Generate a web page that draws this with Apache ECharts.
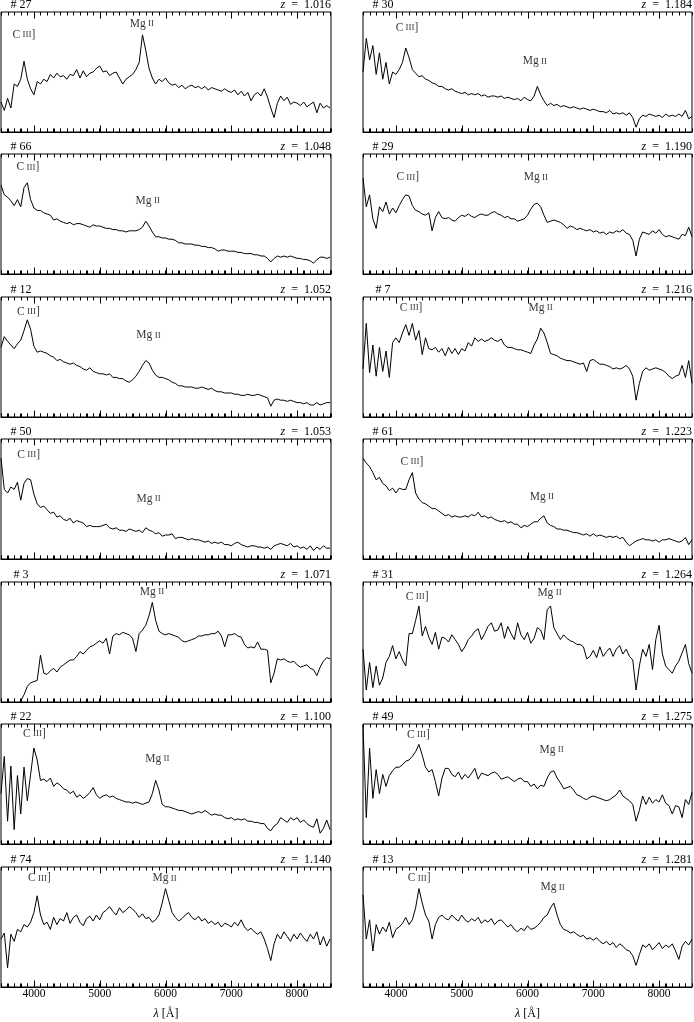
<!DOCTYPE html>
<html><head><meta charset="utf-8">
<script src="https://cdn.jsdelivr.net/npm/echarts@6/dist/echarts.min.js"></script>
<style>html,body{margin:0;padding:0;background:#fff}#c{width:694px;height:1022px}</style>
</head><body><div id="c"></div>
<script>
// wavelength grid (Angstrom)
const lam = [3500,3550,3600,3650,3700,3750,3800,3850,3900,3950,
4000,4050,4100,4150,4200,4250,4300,4350,4400,4450,
4500,4550,4600,4650,4700,4750,4800,4850,4900,4950,
5000,5050,5100,5150,5200,5250,5300,5350,5400,5450,
5500,5550,5600,5650,5700,5750,5800,5850,5900,5950,
6000,6050,6100,6150,6200,6250,6300,6350,6400,6450,
6500,6550,6600,6650,6700,6750,6800,6850,6900,6950,
7000,7050,7100,7150,7200,7250,7300,7350,7400,7450,
7500,7550,7600,7650,7700,7750,7800,7850,7900,7950,
8000,8050,8100,8150,8200,8250,8300,8350,8400,8450,
8500];

// tick positions (Angstrom)
const minorTicks = [3500,3600,3700,3800,3900,4000,4100,4200,4300,4400,4500,4600,4700,4800,4900,
5000,5100,5200,5300,5400,5500,5600,5700,5800,5900,6000,6100,6200,6300,6400,6500,6600,6700,6800,6900,
7000,7100,7200,7300,7400,7500,7600,7700,7800,7900,8000,8100,8200,8300,8400,8500];
const majorTicks = [4000,5000,6000,7000,8000];

const ids = ['27','66','12','50','3','22','74','30','29','7','61','31','49','13'];
const redshifts = ['1.016','1.048','1.052','1.053','1.071','1.100','1.140','1.184','1.190','1.216','1.223','1.264','1.275','1.281'];

// relative flux (0 = panel bottom, 100 = panel top)
const s27 = [25,18,28,20,40,38,44,59,44,36, 31,42,40,44,42,48,45,49,46,47, 44,48,47,52,45,51,46,49,50,53,
 55,50,51,47,49,50,45,40,44,46, 48,52,58,81,68,53,45,40,44,42, 45,41,39,40,37,39,36,38,39,37,
 38,36,38,35,37,36,35,34,36,34, 33,35,31,34,30,33,26,31,33,30, 36,29,20,12,24,30,26,29,23,25,
 24,22,25,21,23,25,16,24,20,22, 20];
const s66 = [74,66,64,61,57,62,56,72,76,62, 55,53,53,51,50,49,45,46,44,43, 42,43,41,42,42,41,40,39,41,40,
 40,39,38,38,37,37,36,36,35,36, 36,36,37,39,44,40,35,31,31,30, 30,29,29,28,26,26,25,25,25,24,
 24,23,23,22,22,21,19,20,20,19, 19,19,18,18,17,17,17,16,16,15, 15,13,10,13,15,14,15,14,15,14,
 13,13,12,12,11,9,12,14,14,13, 14];
const s12 = [58,67,63,60,57,61,64,72,81,73, 59,54,55,54,53,51,50,47,48,46, 45,44,45,43,42,40,39,41,38,37,
 36,36,35,36,33,33,32,32,30,29, 31,34,38,43,47,45,39,35,33,33, 32,31,29,28,26,26,25,25,25,24,
 24,25,24,23,24,22,21,21,20,20, 20,19,19,18,18,19,18,18,19,18, 17,16,9,14,15,14,14,13,14,13,
 12,12,11,12,10,10,12,10,11,12, 12];
const s50 = [84,58,55,60,58,64,49,63,67,66, 54,46,43,44,41,38,39,35,36,33, 32,34,30,32,31,30,27,28,27,27,
 27,28,29,26,25,26,24,24,23,25, 24,23,24,22,26,24,23,21,22,19, 20,20,21,17,18,18,17,16,17,16,
 16,15,14,15,13,14,13,14,12,12, 11,13,14,12,11,10,11,11,10,10, 9,10,8,11,12,13,12,11,13,10,
 11,9,10,8,11,7,10,8,11,9, 9];
const s3 = [null,null,null,null,null,null,1,6,13,16, 17,18,39,24,23,26,28,25,29,31, 33,35,35,38,42,40,43,46,47,49,
 51,49,53,40,55,57,56,58,57,56, 53,42,57,60,64,72,83,68,59,57, 56,57,56,55,54,51,50,51,52,53,
 55,55,56,56,57,57,59,55,46,56, 56,57,55,54,48,45,46,45,50,44, 44,43,16,24,36,35,36,34,33,34,
 31,29,30,31,28,27,22,29,34,37, 36];
const s22 = [42,73,19,65,12,57,25,64,36,58, 80,70,53,54,52,55,48,51,49,46, 45,42,44,39,41,38,40,43,47,41,
 38,40,41,39,40,38,37,36,35,35, 34,35,34,33,34,35,42,53,45,33, 31,31,30,29,28,28,27,26,25,26,
 27,26,28,26,24,25,24,24,22,21, 22,20,21,20,21,19,19,18,18,17, 17,13,11,15,17,22,20,18,22,20,
 22,18,20,17,15,14,21,9,13,20, 12];
const s74 = [40,45,16,44,38,48,46,52,50,54, 62,76,60,52,54,48,58,52,57,55, 62,53,58,60,54,51,57,59,55,60,
 56,62,64,67,63,60,66,62,64,67, 65,62,58,61,57,58,54,56,60,70, 82,72,62,58,55,57,60,62,58,56,
 59,55,57,53,55,52,54,50,53,52, 50,54,51,56,50,47,49,46,44,46, 40,32,22,36,44,40,46,42,38,44,
 40,45,41,38,44,40,46,35,42,34, 40];
const s30 = [50,78,60,72,48,66,44,58,40,50, 48,52,58,70,62,52,49,46,47,44, 43,41,40,38,38,36,35,36,34,33,
 32,33,31,32,31,32,30,31,29,30, 30,29,30,28,29,28,27,28,26,29, 27,26,30,38,31,26,22,24,22,23,
 21,22,21,20,21,20,19,20,19,18, 19,18,17,17,16,18,15,16,15,16, 14,16,12,4,11,14,13,15,14,13,
 14,12,15,13,14,13,15,13,18,11, 13];
const s29 = [80,56,66,46,38,56,52,60,50,55, 51,57,62,66,65,57,53,52,50,49, 51,36,47,52,47,46,47,45,44,47,
 49,48,50,48,47,49,50,49,49,51, 52,50,49,47,48,46,46,44,45,46, 49,54,58,59,56,49,43,44,45,44,
 43,41,38,40,39,37,38,37,36,37, 35,36,34,35,33,35,34,36,35,37, 34,33,28,15,29,35,34,33,36,34,
 37,33,31,32,31,30,29,33,32,39, 31];
const s7 = [40,78,37,60,34,58,38,55,33,62, 66,62,70,77,68,78,64,72,52,66, 57,56,58,54,57,51,58,53,57,52,
 57,55,62,59,66,63,65,63,64,66, 64,63,65,60,58,58,57,56,56,55, 54,53,60,65,74,70,62,53,52,51,
 49,48,47,47,46,45,44,45,38,47, 48,46,44,44,43,42,40,41,40,41, 43,40,34,14,28,38,41,39,40,41,
 40,39,37,34,32,34,35,43,33,47, 28];
const s61 = [84,80,77,72,66,68,63,61,57,59, 55,59,58,58,66,72,55,50,47,46, 44,42,42,40,38,36,37,35,36,35,
 35,36,35,37,36,39,35,36,34,35, 33,32,31,32,30,31,29,29,26,28, 27,29,31,31,34,36,30,28,27,25,
 25,24,24,23,22,22,21,20,21,19, 21,19,20,19,18,19,18,19,17,18, 14,11,13,15,16,17,16,16,15,16,
 14,16,16,17,16,15,14,15,18,12, 16];
const s31 = [44,10,33,12,30,14,20,33,38,47, 36,42,35,30,57,57,68,80,55,63, 54,48,58,44,54,53,50,56,52,48,
 42,46,52,55,59,61,52,57,63,66, 59,60,66,53,63,57,52,66,56,52, 58,49,53,62,60,52,77,80,62,57,
 52,56,53,51,50,48,48,46,36,38, 43,37,46,38,42,45,38,44,47,40, 44,38,35,10,30,44,38,48,27,52,
 64,40,30,27,24,30,34,41,48,32, 24];
const s49 = [99,22,80,38,62,42,58,48,57,61, 64,64,66,69,70,73,77,83,74,64, 60,62,52,40,55,63,63,58,56,60,
 54,58,55,59,63,54,59,58,57,59, 60,58,54,55,56,54,52,54,55,52, 52,48,50,46,49,48,55,60,61,55,
 51,46,47,48,45,41,40,38,37,39, 40,39,38,37,36,37,39,41,45,40, 38,36,33,19,28,40,33,39,34,37,
 35,41,34,32,25,32,31,22,37,33, 43];
const s13 = [77,40,56,30,52,44,50,46,54,41, 48,50,53,58,52,56,66,82,70,60, 55,40,52,58,60,57,56,60,57,55,
 60,56,54,57,55,58,53,56,54,57, 52,55,56,53,50,52,48,46,49,47, 51,48,49,51,54,58,60,66,70,60,
 52,48,47,45,46,44,42,43,40,41, 39,41,38,36,38,35,37,33,36,34, 31,30,26,18,27,35,33,36,31,34,
 37,32,35,33,36,30,23,34,38,35, 40];

const spectra = [s27,s66,s12,s50,s3,s22,s74,s30,s29,s7,s61,s31,s49,s13];
// heights of the line-label annotations (same flux units)
const ciiiLevel = [81,89,87.5,87,null,92,90.6, 87,80.6,91,81,87.5,91,90.6];
const mgiiLevel = [90,61,68,50,92,71,90.6, 59,80.6,91,52,91,78.6,83];
const REST_CIII = 1909, REST_MGII = 2798;

// layout
const ROW_TOPS = [12, 154, 297, 439, 582, 724, 867], PANEL_H = 120;
const COL_LEFT = [1, 363], COL_W = [330, 329], COL_MAX = [8515, 8500];
const FONT = '"Liberation Serif", "DejaVu Serif", serif';
const MINOR_LEN = 3.5, MAJOR_LEN = 6.5;

const grid = [], xAxis = [], yAxis = [], series = [], graphic = [];

for (let p = 0; p < 14; p++) {
  const col = p < 7 ? 0 : 1, row = p % 7;
  const top = ROW_TOPS[row];
  grid.push({ left: COL_LEFT[col], top: top, width: COL_W[col], height: PANEL_H,
    show: true, borderColor: '#000', borderWidth: 1 });
  xAxis.push({ type: 'value', gridIndex: p, min: 3500, max: COL_MAX[col], position: 'bottom', interval: 100,
    axisLine: { show: true, onZero: false, lineStyle: { color: '#000', width: 1 } },
    splitLine: { show: false },
    axisTick: { show: true, inside: true, length: MINOR_LEN, lineStyle: { color: '#000', width: 1 } },
    axisLabel: row === 6 ? { show: true, customValues: majorTicks, color: '#000', fontFamily: FONT,
      fontSize: 11.5, margin: 1, formatter: (v) => String(v) } : { show: false } });
  yAxis.push({ type: 'value', gridIndex: p, min: 0, max: 100, show: false });

  series.push({ type: 'line', xAxisIndex: p, yAxisIndex: p,
    data: lam.map((l, i) => [l, spectra[p][i]]),
    symbol: 'none', showSymbol: false, connectNulls: false,
    lineStyle: { color: '#000', width: 1 } });

  const z = parseFloat(redshifts[p]);
  const lbl = [];
  if (ciiiLevel[p] !== null) lbl.push({ value: [REST_CIII * (1 + z), ciiiLevel[p]], txt: 'C\u2009{s|III}]' });
  if (mgiiLevel[p] !== null) lbl.push({ value: [REST_MGII * (1 + z), mgiiLevel[p]], txt: 'Mg\u2009{s|II}' });
  series.push({ type: 'scatter', xAxisIndex: p, yAxisIndex: p, silent: true,
    symbolSize: 1, itemStyle: { color: 'rgba(0,0,0,0)' },
    data: lbl.map(d => ({ value: d.value, txt: d.txt })),
    label: { show: true, position: 'inside', color: '#000', fontFamily: FONT, fontSize: 11.5,
      formatter: (prm) => prm.data.txt,
      rich: { s: { fontSize: 9, fontFamily: FONT, color: '#000' } } } });

  graphic.push({ type: 'text', x: COL_LEFT[col] + 20, y: top - 7,
    style: { text: '# ' + ids[p], fontSize: 12, fontFamily: FONT, fill: '#000',
      align: 'center', verticalAlign: 'middle' } });
  graphic.push({ type: 'text', x: COL_LEFT[col] + COL_W[col], y: top - 7,
    style: { text: '{i|z}\u2002=\u2002' + redshifts[p], fontSize: 12, fontFamily: FONT, fill: '#000',
      align: 'right', verticalAlign: 'middle',
      rich: { i: { fontStyle: 'italic', fontSize: 12, fontFamily: FONT } } } });
}
for (let col = 0; col < 2; col++) {
  graphic.push({ type: 'text', x: COL_LEFT[col] + COL_W[col] / 2, y: 1014,
    style: { text: '{i|λ} [Å]', fontSize: 12, fontFamily: FONT, fill: '#000',
      align: 'center', verticalAlign: 'middle',
      rich: { i: { fontStyle: 'italic', fontSize: 12, fontFamily: FONT } } } });
}

const chart = echarts.init(document.getElementById('c'));
chart.setOption({ animation: false, grid, xAxis, yAxis, series, graphic });

// tick marks on top and bottom of every frame, placed through each panel's own scales
try {
  const ticks = [];
  for (let p = 0; p < 14; p++) {
    minorTicks.forEach(v => {
      const len = majorTicks.indexOf(v) >= 0 ? MAJOR_LEN : MINOR_LEN;
      const b = chart.convertToPixel({ xAxisIndex: p, yAxisIndex: p }, [v, 0]);
      const t = chart.convertToPixel({ xAxisIndex: p, yAxisIndex: p }, [v, 100]);
      if (!b || !t) return;
      const x = Math.round(b[0]) + 0.5;
      ticks.push({ type: 'line', z: 100, silent: true, shape: { x1: x, y1: b[1], x2: x, y2: b[1] - len }, style: { stroke: '#000', lineWidth: 1 } });
      ticks.push({ type: 'line', z: 100, silent: true, shape: { x1: x, y1: t[1], x2: x, y2: t[1] + len }, style: { stroke: '#000', lineWidth: 1 } });
    });
  }
  chart.setOption({ graphic: graphic.concat(ticks) });
} catch (e) { /* keep chart without extra ticks */ }
</script></body></html>
